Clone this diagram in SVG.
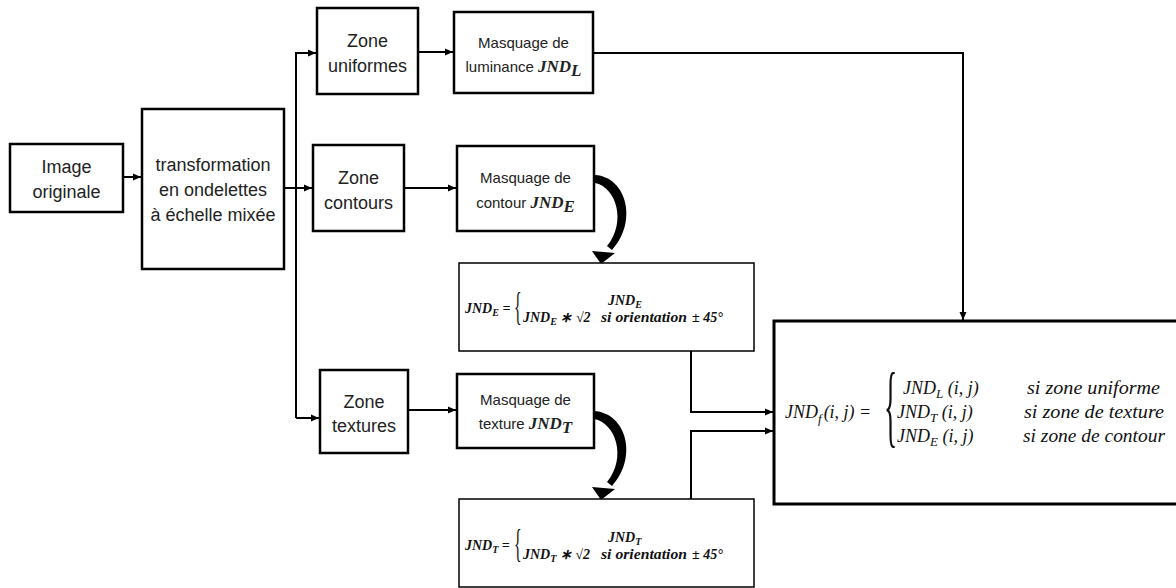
<svg xmlns="http://www.w3.org/2000/svg" width="1176" height="588" viewBox="0 0 1176 588">
<defs>
<marker id="ah" markerUnits="userSpaceOnUse" markerWidth="9" markerHeight="8" refX="8" refY="4" orient="auto">
<path d="M0,0.5 L8,4 L0,7.5 z" fill="#000"/>
</marker>
<style>
.box{fill:#fff;stroke:#000;stroke-width:2.5}
.fbox{fill:#fff;stroke:#000;stroke-width:1.5}
.big{fill:#fff;stroke:#000;stroke-width:3}
.t{font-family:"Liberation Sans",Arial,sans-serif;font-size:18px;fill:#222;text-anchor:middle}
.m{font-family:"Liberation Sans",Arial,sans-serif;font-size:15px;fill:#222;text-anchor:middle}
.mj{font-family:"Liberation Serif","Times New Roman",serif;font-weight:bold;font-style:italic;font-size:17px}
.f{font-family:"Liberation Serif","Times New Roman",serif;font-weight:bold;font-style:italic;font-size:14px;fill:#111}
.g{font-family:"Liberation Serif","Times New Roman",serif;font-style:italic;font-size:18px;fill:#111}
.br{font-family:"Liberation Serif","Times New Roman",serif;fill:#111}
.c{fill:none;stroke:#000;stroke-width:2}
</style>
</defs>
<rect width="1176" height="588" fill="#fff"/>
<g id="connectors">
<path class="c" d="M123,177 H141" marker-end="url(#ah)"/>
<path class="c" d="M284,188 H312" marker-end="url(#ah)"/>
<path class="c" d="M296,418 V53 H316" marker-end="url(#ah)"/>
<path class="c" d="M296,418 H319" marker-end="url(#ah)"/>
<path class="c" d="M418,52 H453" marker-end="url(#ah)"/>
<path class="c" d="M404,188 H456" marker-end="url(#ah)"/>
<path class="c" d="M408,410 H456" marker-end="url(#ah)"/>
<path class="c" d="M593,53 H963 V320" marker-end="url(#ah)"/>
<path class="c" d="M691,351 V412 H773" marker-end="url(#ah)"/>
<path class="c" d="M691,499 V431 H773" marker-end="url(#ah)"/>
<g id="curveE">
<path d="M595,175 C627,177 638,222 612,250 L607,246 C627,222 616,187 595,183 Z" fill="#000"/>
<path d="M601,264 L592,251 L615,253 Z" fill="#000"/>
</g>
<g id="curveT" transform="translate(0,236)">
<path d="M594,175 C627,177 638,222 612,250 L607,246 C627,222 616,187 594,183 Z" fill="#000"/>
<path d="M601,264 L592,251 L615,253 Z" fill="#000"/>
</g>
</g>
<g id="image-originale">
<rect class="box" x="10" y="144" width="113" height="68"/>
<text class="t" x="66.5" y="173">Image</text>
<text class="t" x="66.5" y="198">originale</text>
</g>
<g id="transformation">
<rect class="box" x="142" y="109" width="142" height="160"/>
<text class="t" x="213" y="171">transformation</text>
<text class="t" x="213" y="196">en ondelettes</text>
<text class="t" x="213" y="221">à échelle mixée</text>
</g>
<g id="zone-uniformes">
<rect class="box" x="317" y="8" width="101" height="86"/>
<text class="t" x="367.5" y="47">Zone</text>
<text class="t" x="367.5" y="72">uniformes</text>
</g>
<g id="zone-contours">
<rect class="box" x="313" y="145" width="91" height="86"/>
<text class="t" x="358.5" y="184">Zone</text>
<text class="t" x="358.5" y="209">contours</text>
</g>
<g id="zone-textures">
<rect class="box" x="320" y="370" width="88" height="83"/>
<text class="t" x="364" y="408">Zone</text>
<text class="t" x="364" y="432">textures</text>
</g>
<g id="masquage-luminance">
<rect class="box" x="454" y="12" width="139" height="81"/>
<text class="m" x="523.5" y="48">Masquage de</text>
<text class="m" x="523.5" y="72">luminance <tspan class="mj">JND</tspan><tspan class="mj" font-size="12" dy="4">L</tspan></text>
</g>
<g id="masquage-contour">
<rect class="box" x="457" y="146" width="137" height="85"/>
<text class="m" x="525.5" y="183">Masquage de</text>
<text class="m" x="525.5" y="208">contour <tspan class="mj">JND</tspan><tspan class="mj" font-size="12" dy="4">E</tspan></text>
</g>
<g id="masquage-texture">
<rect class="box" x="457" y="374" width="137" height="74"/>
<text class="m" x="525.5" y="405">Masquage de</text>
<text class="m" x="525.5" y="429">texture <tspan class="mj">JND</tspan><tspan class="mj" font-size="12" dy="4">T</tspan></text>
</g>
<g id="formule-E">
<rect class="fbox" x="459" y="263" width="295" height="88"/>
<text class="f" x="465" y="313">JND<tspan font-size="10" dy="3">E</tspan><tspan dy="-3"> =</tspan></text>
<text class="br" transform="translate(514,320) scale(0.4,1)" style="font-size:40px">{</text>
<text class="f" x="608" y="305">JND<tspan font-size="10" dy="3">E</tspan></text>
<text class="f" x="523" y="322">JND<tspan font-size="10" dy="3">E</tspan><tspan dy="-3"> ∗ √2</tspan></text>
<text class="f" x="601" y="322" textLength="86" lengthAdjust="spacingAndGlyphs">si orientation</text>
<text class="f" x="692" y="322">± 45°</text>
</g>
<g id="formule-T">
<rect class="fbox" x="459" y="499" width="295" height="88"/>
<text class="f" x="465" y="550">JND<tspan font-size="10" dy="3">T</tspan><tspan dy="-3"> =</tspan></text>
<text class="br" transform="translate(514,557) scale(0.4,1)" style="font-size:40px">{</text>
<text class="f" x="608" y="542">JND<tspan font-size="10" dy="3">T</tspan></text>
<text class="f" x="523" y="559">JND<tspan font-size="10" dy="3">T</tspan><tspan dy="-3"> ∗ √2</tspan></text>
<text class="f" x="601" y="559" textLength="86" lengthAdjust="spacingAndGlyphs">si orientation</text>
<text class="f" x="692" y="559">± 45°</text>
</g>
<g id="jnd-final">
<rect class="big" x="774" y="321" width="410" height="183"/>
<text class="g" x="785" y="418">JND<tspan font-size="13" dy="5">f</tspan><tspan dx="2" dy="-5">(i, j) =</tspan></text>
<text class="br" transform="translate(884,436) scale(0.3,1)" style="font-size:92px">{</text>
<text class="g" x="903" y="394">JND<tspan font-size="13" dy="4">L</tspan><tspan dy="-4"> (i, j)</tspan></text>
<text class="g" x="897" y="418">JND<tspan font-size="13" dy="4">T</tspan><tspan dy="-4"> (i, j)</tspan></text>
<text class="g" x="897" y="442">JND<tspan font-size="13" dy="4">E</tspan><tspan dy="-4"> (i, j)</tspan></text>
<text class="g" x="1027" y="394" textLength="133" lengthAdjust="spacingAndGlyphs">si zone uniforme</text>
<text class="g" x="1024" y="418" textLength="140" lengthAdjust="spacingAndGlyphs">si zone de texture</text>
<text class="g" x="1023" y="442" textLength="142" lengthAdjust="spacingAndGlyphs">si zone de contour</text>
</g>
</svg>
